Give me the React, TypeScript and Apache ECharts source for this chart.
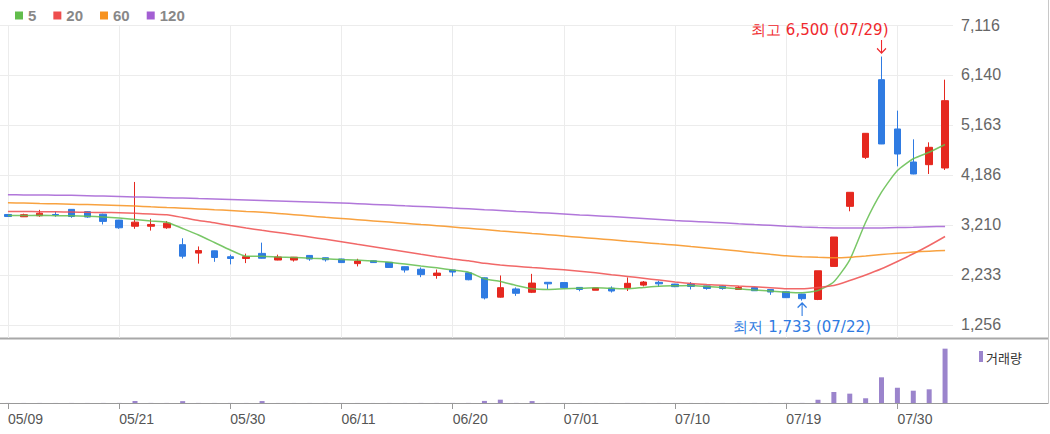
import React, { useEffect, useRef } from "react";
import * as echarts from "echarts";

const dates = [
  "05/09", "05/10", "05/13", "05/14", "05/16", "05/17", "05/20", "05/21", "05/22", "05/23",
  "05/24", "05/27", "05/28", "05/29", "05/30", "05/31", "06/03", "06/04", "06/05", "06/07",
  "06/10", "06/11", "06/12", "06/13", "06/14", "06/17", "06/18", "06/19", "06/20", "06/21",
  "06/24", "06/25", "06/26", "06/27", "06/28", "07/01", "07/02", "07/03", "07/04", "07/05",
  "07/08", "07/09", "07/10", "07/11", "07/12", "07/15", "07/16", "07/17", "07/18", "07/19",
  "07/22", "07/23", "07/24", "07/25", "07/26", "07/29", "07/30", "07/31", "08/01", "08/02",
];

const opens = [
  3415, 3370, 3390, 3415, 3515, 3470, 3420, 3305, 3185, 3185,
  3155, 2825, 2660, 2705, 2590, 2555, 2655, 2525, 2525, 2615,
  2570, 2545, 2455, 2510, 2480, 2395, 2345, 2223, 2330, 2275,
  2178, 1800, 1960, 1895, 2090, 2085, 1990, 1935, 1975, 1985,
  2035, 2090, 2055, 2055, 2020, 2015, 1950, 1985, 1950, 1905,
  1860, 1755, 2400, 3574, 4531, 6048, 5085, 4440, 4388, 4323,
];
const closes = [
  3375, 3410, 3440, 3405, 3375, 3365, 3280, 3155, 3265, 3220,
  3245, 2600, 2710, 2575, 2555, 2590, 2560, 2585, 2580, 2545,
  2530, 2475, 2505, 2475, 2380, 2330, 2240, 2270, 2290, 2140,
  1785, 1985, 1875, 2075, 2060, 1985, 1950, 1980, 1920, 2070,
  2095, 2060, 2005, 2010, 1970, 1970, 1990, 1925, 1900, 1790,
  1770, 2315, 2975, 3848, 5000, 4792, 4596, 4206, 4727, 5638,
];
const lows = [
  3370, 3365, 3370, 3370, 3350, 3350, 3220, 3135, 3135, 3100,
  3135, 2555, 2455, 2490, 2440, 2465, 2555, 2520, 2495, 2510,
  2495, 2470, 2400, 2470, 2375, 2280, 2190, 2160, 2205, 2130,
  1755, 1790, 1825, 1880, 1960, 1980, 1915, 1935, 1890, 1920,
  2010, 2005, 1995, 1950, 1945, 1945, 1950, 1920, 1845, 1785,
  1733, 1742, 2400, 3477, 4499, 4790, 4355, 4200, 4206, 4284,
];
const highs = [
  3418, 3430, 3505, 3470, 3520, 3480, 3430, 3310, 4050, 3330,
  3285, 2950, 2790, 2710, 2630, 2650, 2865, 2630, 2585, 2620,
  2575, 2550, 2550, 2515, 2485, 2400, 2380, 2340, 2335, 2280,
  2185, 2223, 1990, 2255, 2090, 2085, 1990, 1980, 2010, 2185,
  2115, 2120, 2060, 2095, 2025, 2025, 2015, 1990, 1955, 1910,
  1865, 2315, 2975, 3850, 5005, 6500, 5443, 4883, 4824, 6048,
];
const volumes = [
  6000, 5000, 7000, 4000, 6500, 5500, 7500, 8000, 205000, 9000,
  6500, 190000, 8500, 6000, 7000, 5000, 198000, 5500, 4500, 6000,
  4000, 5000, 5500, 3500, 6000, 5500, 8000, 6500, 7000, 8500,
  212000, 338000, 9500, 196000, 7500, 5000, 4200, 3600, 4800, 6800,
  4500, 4100, 3800, 4600, 3700, 4000, 3400, 4300, 5200, 8500,
  9000, 330000, 1120000, 950000, 480000, 2610000, 1550000, 1250000, 1390000, 5520000,
];

const ma5 = [
  3395, 3395, 3398, 3392, 3388, 3381, 3366, 3346, 3317, 3288,
  3264, 3141, 3014, 2868, 2721, 2600, 2600, 2584, 2575, 2561,
  2549, 2536, 2526, 2506, 2483, 2448, 2409, 2373, 2330, 2288,
  2159, 2106, 2028, 1963, 1950, 1963, 1973, 1983, 1973, 1963,
  1989, 2014, 2022, 2028, 2008, 1989, 1963, 1940, 1920, 1897,
  1885, 1930, 2100, 2530, 3264, 3850, 4274, 4503, 4631, 4782,
];
const ma20 = [
  3473, 3473, 3469, 3467, 3463, 3457, 3454, 3448, 3438, 3424,
  3409, 3356, 3297, 3252, 3199, 3151, 3106, 3063, 3020, 2975,
  2930, 2883, 2832, 2784, 2735, 2686, 2637, 2590, 2547, 2510,
  2461, 2428, 2403, 2379, 2356, 2333, 2307, 2276, 2239, 2204,
  2169, 2133, 2098, 2067, 2047, 2032, 2016, 2001, 1983, 1963,
  1963, 1989, 2028, 2126, 2233, 2354, 2497, 2647, 2809, 2985,
];
const ma60 = [
  3643, 3637, 3629, 3623, 3616, 3608, 3600, 3590, 3579, 3565,
  3551, 3538, 3524, 3508, 3493, 3475, 3458, 3436, 3411, 3385,
  3360, 3336, 3313, 3289, 3266, 3243, 3219, 3196, 3170, 3145,
  3120, 3094, 3069, 3043, 3020, 2995, 2969, 2944, 2919, 2893,
  2868, 2842, 2819, 2789, 2760, 2731, 2700, 2668, 2637, 2608,
  2590, 2577, 2569, 2579, 2604, 2633, 2657, 2680, 2698, 2711,
];
const ma120 = [
  3799, 3797, 3795, 3792, 3788, 3782, 3774, 3766, 3758, 3751,
  3743, 3735, 3725, 3717, 3708, 3698, 3688, 3678, 3668, 3659,
  3649, 3639, 3625, 3612, 3598, 3584, 3571, 3557, 3541, 3526,
  3508, 3493, 3475, 3458, 3442, 3424, 3407, 3391, 3374, 3356,
  3337, 3317, 3297, 3282, 3266, 3251, 3233, 3217, 3202, 3186,
  3172, 3161, 3153, 3149, 3149, 3153, 3159, 3166, 3174, 3182,
];

const yTickValues = [1256, 2232.67, 3209.33, 4186, 5162.67, 6139.33, 7116];
const yTickLabels = ["1,256", "2,233", "3,210", "4,186", "5,163", "6,140", "7,116"];
const labelDates = ["05/09", "05/21", "05/30", "06/11", "06/20", "07/01", "07/10", "07/19", "07/30"];
const maNames = ["5", "20", "60", "120"];
const highPoint = { date: "07/29", value: 6500 };
const lowPoint = { date: "07/22", value: 1733 };

const UP = "#e5281f";
const DOWN = "#2f7be2";
const MA_COLORS = ["#62bd4c", "#ee4d4d", "#f7921f", "#a35fd3"];
const VOL_COLOR = "#9b84cc";
const FONT = "'Liberation Sans', Arial, sans-serif";
const WIDE_FONT = "'DejaVu Sans', Verdana, sans-serif";

export default function App() {
  const ref = useRef<HTMLDivElement>(null);
  useEffect(() => {
    if (!ref.current) return;
    const chart = echarts.init(ref.current, null, { renderer: "svg" });
    const fmt = (v: number) => v.toLocaleString("en-US");
    const isLabelDate = (_i: number, v: string) => labelDates.includes(v);
    const candleData = dates.map((_, i) => [opens[i], closes[i], lows[i], highs[i]]);
    const maData = [ma5, ma20, ma60, ma120];

    const option: any = {
      animation: false,
      backgroundColor: "#ffffff",
      textStyle: { fontFamily: FONT },
      legend: {
        data: maNames,
        left: 10,
        top: 3,
        icon: "rect",
        itemWidth: 8,
        itemHeight: 8,
        itemGap: 17,
        textStyle: { color: "#888", fontWeight: "bold", fontSize: 15, fontFamily: FONT },
      },
      grid: [
        { left: 0, right: 97, top: 25, bottom: 96 },
        { left: 0, right: 97, top: 340, bottom: 31 },
      ],
      xAxis: [
        {
          type: "category",
          gridIndex: 0,
          data: dates,
          boundaryGap: true,
          axisLine: { show: false },
          axisTick: { show: false },
          axisLabel: { show: false },
          splitLine: {
            show: true,
            interval: isLabelDate,
            alignWithLabel: true,
            lineStyle: { color: "#ececec", width: 1 },
          },
        },
        {
          type: "category",
          gridIndex: 1,
          data: dates,
          boundaryGap: true,
          axisLine: { show: false },
          axisTick: {
            show: true,
            interval: isLabelDate,
            alignWithLabel: true,
            length: 6,
            lineStyle: { color: "#999" },
          },
          axisLabel: {
            show: true,
            interval: isLabelDate,
            align: "left",
            margin: 9,
            color: "#555",
            fontSize: 14,
            fontFamily: FONT,
          },
          splitLine: { show: false },
        },
      ],
      yAxis: [
        {
          type: "value",
          gridIndex: 0,
          position: "right",
          min: 1002,
          max: 7116,
          axisLine: { show: false },
          axisTick: { show: false, customValues: yTickValues },
          axisLabel: {
            customValues: yTickValues,
            margin: 8,
            color: "#666",
            fontSize: 16,
            fontFamily: FONT,
            formatter: (v: number) => {
              const i = yTickValues.findIndex((t) => Math.abs(t - v) < 1);
              return i >= 0 ? yTickLabels[i] : "";
            },
          },
          splitLine: { show: true, lineStyle: { color: "#ececec" } },
        },
        {
          type: "value",
          gridIndex: 1,
          min: 0,
          max: 6400000,
          axisLine: { show: false },
          axisTick: { show: false },
          axisLabel: { show: false },
          splitLine: { show: false },
        },
      ],
      series: [
        {
          type: "candlestick",
          name: "price",
          xAxisIndex: 0,
          yAxisIndex: 0,
          data: candleData,
          barWidth: 7,
          itemStyle: {
            color: UP,
            color0: DOWN,
            borderColor: UP,
            borderColor0: DOWN,
            borderWidth: 1,
          },
          markPoint: {
            silent: true,
            data: [
              {
                name: "high",
                coord: [highPoint.date, highPoint.value],
                symbol: "path://M5,0L5,14M1,9L5,14L9,9",
                symbolSize: [9, 13],
                symbolOffset: [0, -10],
                itemStyle: { color: "rgba(0,0,0,0)", borderColor: "#f0282d", borderWidth: 1.3 },
                label: {
                  show: true,
                  position: "top",
                  distance: 2,
                  align: "right",
                  offset: [7, 0],
                  formatter: `최고 ${fmt(highPoint.value)} (${highPoint.date})`,
                  color: "#f0282d",
                  fontSize: 15,
                  fontFamily: WIDE_FONT,
                },
              },
              {
                name: "low",
                coord: [lowPoint.date, lowPoint.value],
                symbol: "path://M5,14L5,0M1,5L5,0L9,5",
                symbolSize: [9, 13],
                symbolOffset: [0, 9],
                itemStyle: { color: "rgba(0,0,0,0)", borderColor: "#2f7be2", borderWidth: 1.3 },
                label: {
                  show: true,
                  position: "bottom",
                  distance: 3,
                  offset: [0, 0],
                  formatter: `최저 ${fmt(lowPoint.value)} (${lowPoint.date})`,
                  color: "#2f7be2",
                  fontSize: 15,
                  fontFamily: WIDE_FONT,
                },
              },
            ],
          },
        },
        ...maNames.map((n, k) => ({
          type: "line",
          name: n,
          xAxisIndex: 0,
          yAxisIndex: 0,
          data: maData[k],
          symbol: "none",
          showSymbol: false,
          smooth: 0.2,
          color: MA_COLORS[k],
          lineStyle: { width: 1.5, color: MA_COLORS[k], opacity: 0.85 },
          z: 3,
        })),
        {
          type: "bar",
          name: "거래량",
          xAxisIndex: 1,
          yAxisIndex: 1,
          data: volumes,
          barWidth: 5,
          itemStyle: { color: VOL_COLOR },
        },
      ],
      graphic: [
        {
          type: "line",
          silent: true,
          shape: { x1: 0, y1: 338.5, x2: 1048, y2: 338.5 },
          style: { stroke: "#a8a8a8", lineWidth: 2 },
        },
        {
          type: "line",
          silent: true,
          shape: { x1: 0, y1: 403.5, x2: 1048, y2: 403.5 },
          style: { stroke: "#999", lineWidth: 1 },
        },
        {
          type: "line",
          silent: true,
          shape: { x1: 1048.5, y1: 0, x2: 1048.5, y2: 404 },
          style: { stroke: "#c8c8c8", lineWidth: 1 },
        },
        {
          type: "rect",
          silent: true,
          shape: { x: 979, y: 351, width: 4, height: 11 },
          style: { fill: VOL_COLOR },
        },
        {
          type: "text",
          silent: true,
          x: 986,
          y: 357,
          style: {
            text: "거래량",
            fill: "#333",
            fontSize: 13,
            fontFamily: "'Noto Sans CJK KR', sans-serif",
            verticalAlign: "middle",
          },
        },
      ],
    };
    chart.setOption(option);
    return () => chart.dispose();
  }, []);
  return (
    <div
      ref={ref}
      style={{ position: "absolute", left: 0, top: 0, width: 1050, height: 434, background: "#fff" }}
    />
  );
}
